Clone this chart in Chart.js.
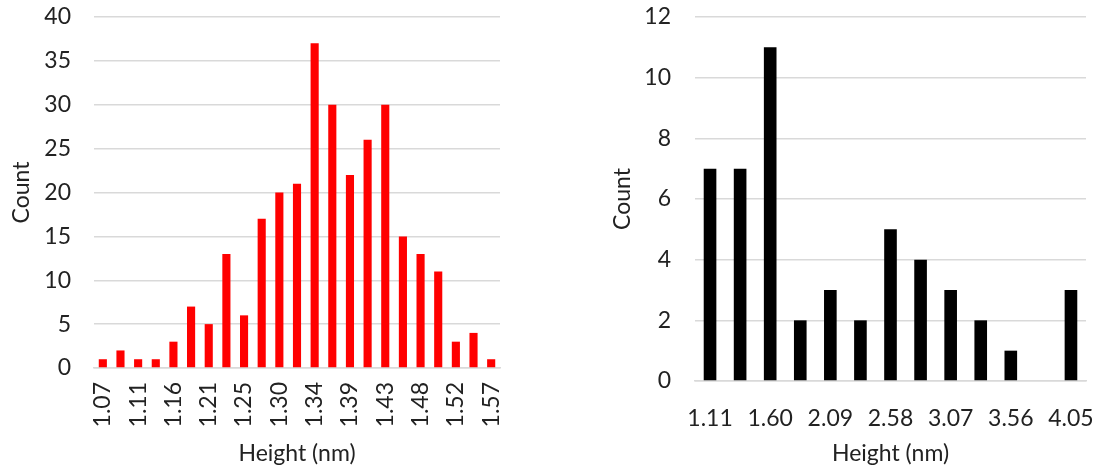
<!DOCTYPE html>
<html>
<head>
<meta charset="utf-8">
<script src="https://cdn.jsdelivr.net/npm/chart.js@4.4.1/dist/chart.umd.min.js"></script>
<style>
  html, body { margin: 0; padding: 0; background: #ffffff; }
  body { width: 1117px; height: 469px; position: relative; overflow: hidden; }
  .panel { position: absolute; top: 0; height: 469px; }
  #left { left: 0; width: 520px; }
  #right { left: 560px; width: 557px; }
</style>
</head>
<body>
<div class="panel" id="left"><canvas id="leftChart"></canvas></div>
<div class="panel" id="right"><canvas id="rightChart"></canvas></div>
<script>
// Height histogram, narrow distribution (bin centres in nm)
const leftBins = ['1.07','1.09','1.11','1.14','1.16','1.18','1.21','1.23','1.25','1.27','1.30','1.32',
                  '1.34','1.36','1.39','1.41','1.43','1.45','1.48','1.50','1.52','1.55','1.57'];
const leftCounts = [1, 2, 1, 1, 3, 7, 5, 13, 6, 17, 20, 21, 37, 30, 22, 26, 30, 15, 13, 11, 3, 4, 1];

// Height histogram, broad distribution (bin centres in nm)
const rightBins = ['1.11','1.36','1.60','1.85','2.09','2.34','2.58','2.83','3.07','3.32','3.56','3.81','4.05'];
const rightCounts = [7, 7, 11, 2, 3, 2, 5, 4, 3, 2, 1, 0, 3];

const axisTitle = 'Height (nm)';
const countTitle = 'Count';

const FONT = 'Lato, "Open Sans", sans-serif';
const TEXT = '#222222';
const GRID = '#d9d9d9';

function makeHistogram(canvasId, cfg) {
  return new Chart(document.getElementById(canvasId), {
    type: 'bar',
    data: {
      labels: cfg.labels,
      datasets: [{
        data: cfg.values,
        backgroundColor: cfg.color,
        borderWidth: 0,
        barPercentage: cfg.barPct,
        categoryPercentage: 1.0
      }]
    },
    options: {
      responsive: true,
      maintainAspectRatio: false,
      animation: false,
      events: [],
      layout: { padding: cfg.padding },
      plugins: { legend: { display: false }, tooltip: { enabled: false } },
      scales: {
        x: {
          grid: { display: false, drawTicks: false },
          border: { display: true, color: GRID, width: 1.5 },
          ticks: {
            autoSkip: false,
            minRotation: cfg.rotate,
            maxRotation: cfg.rotate,
            padding: cfg.xTickPad,
            color: TEXT,
            font: { family: FONT, size: 23 },
            callback: function (v, i) { return i % 2 === 0 ? this.getLabelForValue(v) : null; }
          },
          title: { display: true, text: axisTitle, color: TEXT, font: { family: FONT, size: 23 }, padding: 0 },
          afterFit: s => { s.height = cfg.xHeight; s.paddingLeft = 0; s.paddingRight = 0; }
        },
        y: {
          min: 0,
          max: cfg.yMax,
          grid: { color: GRID, lineWidth: 1.5, drawTicks: false },
          border: { display: false },
          ticks: {
            stepSize: cfg.yStep,
            padding: cfg.yTickPad,
            color: TEXT,
            font: { family: FONT, size: 23 }
          },
          title: { display: true, text: countTitle, color: TEXT, font: { family: FONT, size: 23 }, padding: 0 },
          afterFit: s => { s.width = cfg.yWidth; s.paddingTop = 0; s.paddingBottom = 0; }
        }
      }
    }
  });
}

makeHistogram('leftChart', {
  labels: leftBins, values: leftCounts, color: '#ff0000', barPct: 0.46,
  yMax: 40, yStep: 5, rotate: 90, xTickPad: 14, yTickPad: 23,
  padding: { left: 8, top: 17, right: 20, bottom: 2 },
  xHeight: 99, yWidth: 86
});

makeHistogram('rightChart', {
  labels: rightBins, values: rightCounts, color: '#000000', barPct: 0.42,
  yMax: 12, yStep: 2, rotate: 0, xTickPad: 24, yTickPad: 24,
  padding: { left: 49, top: 17, right: 31, bottom: 2 },
  xHeight: 86, yWidth: 86
});
</script>
</body>
</html>
